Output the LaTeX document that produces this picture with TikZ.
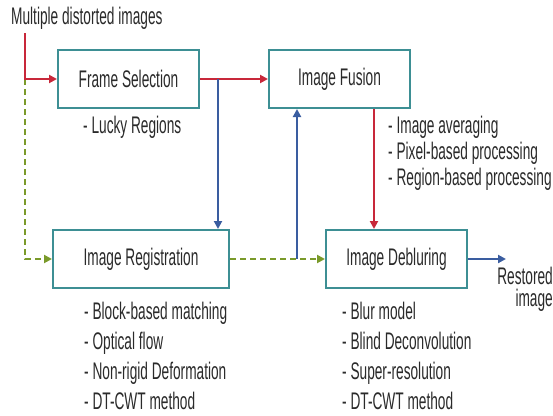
\documentclass[tikz,border=0pt]{standalone}
\usepackage{fontspec}
\setmainfont{Liberation Sans}[FakeStretch=0.57]
\usetikzlibrary{arrows.meta,calc}
\definecolor{boxc}{HTML}{3D8F94}
\definecolor{redc}{HTML}{C8283A}
\definecolor{bluec}{HTML}{3A5DA0}
\definecolor{greenc}{HTML}{7A9A2A}
\definecolor{txtc}{HTML}{2A2A2A}
\begin{document}
\begin{tikzpicture}[x=1pt,y=-1pt,
  stagebox/.style={draw=boxc,line width=2pt,fill=white,minimum height=58pt,inner sep=0pt,text=txtc,font=\fontsize{24}{28}\selectfont},
  lbl/.style={text=txtc,inner sep=0pt,align=left,anchor=north west},
  redarr/.style={draw=redc,line width=2pt,-{Triangle[length=8pt,width=8pt]}},
  bluearr/.style={draw=bluec,line width=2pt,-{Triangle[length=8pt,width=8pt]}},
  greenarr/.style={draw=greenc,line width=2pt,dash pattern=on 6pt off 4pt,-{Triangle[length=8pt,width=8pt]}}]
\useasboundingbox (0,0) rectangle (553,415);
\fill[white] (0,0) rectangle (553,415);
\node[lbl,anchor=west,font=\fontsize{24}{28}\selectfont] (title) at (11,18) {Multiple distorted images};
\node[stagebox,minimum width=141pt] (fs) at (128.5,79) {Frame Selection};
\node[stagebox,minimum width=141pt] (fu) at (339.5,79) {Image Fusion};
\node[stagebox,minimum width=176pt] (reg) at (141,259) {Image Registration};
\node[stagebox,minimum width=141pt] (deb) at (396.5,259) {Image Debluring};
\node[lbl,font=\fontsize{24}{26}\selectfont] (fsl) at (83,116) {- Lucky Regions};
\node[lbl,font=\fontsize{24}{26}\selectfont] (ful) at (388,116) {- Image averaging\\- Pixel-based processing\\- Region-based processing};
\node[lbl,font=\fontsize{24}{30}\selectfont] (regl) at (84,302) {- Block-based matching\\- Optical flow\\- Non-rigid Deformation\\- DT-CWT method};
\node[lbl,font=\fontsize{24}{30}\selectfont] (debl) at (342,302) {- Blur model\\- Blind Deconvolution\\- Super-resolution\\- DT-CWT method};
\node[lbl,anchor=north east,align=right,font=\fontsize{24}{22}\selectfont] (out) at (553,267) {Restored\\image};
\coordinate (s) at (25,33);
\coordinate (j1) at (s |- fs.west);
\coordinate (b1) at (218,79);
\coordinate (b2) at (297,259);
\coordinate (r1) at (374,79);
\coordinate (o1) at (506,259);
\draw[greenarr] (j1) |- (reg.west);
\draw[redarr] (s) |- (fs.west);
\draw[redarr] (fs.east) -- (fu.west);
\draw[bluearr] (b1) -- (b1 |- reg.north);
\draw[greenarr] (reg.east) -- (deb.west);
\draw[bluearr] (b2) -- (b2 |- fu.south);
\draw[redarr] (r1 |- fu.south) -- (r1 |- deb.north);
\draw[bluearr] (deb.east) -- (o1);
\end{tikzpicture}
\end{document}
